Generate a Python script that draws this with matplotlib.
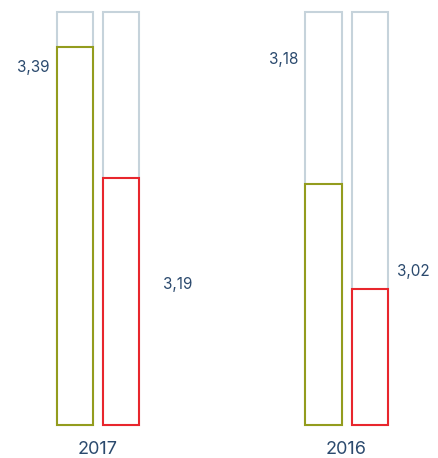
import matplotlib
matplotlib.use("Agg")
import matplotlib.pyplot as plt

# data
years = ["2017", "2016"]
olive_vals = [3.39, 3.18]
red_vals = [3.19, 3.02]
labels_olive = ["3,39", "3,18"]
labels_red = ["3,19", "3,02"]

base = 2.811      # where the bars start
top = 3.444       # height of the grey frame bars

olive = "#939c1e"
red = "#e8262d"
grey = "#c6d3db"
txt = "#2b4a6e"

plt.rcParams['font.family'] = ['Inter', 'DejaVu Sans']

fig = plt.figure(figsize=(4.39, 4.58), dpi=100)
ax = fig.add_axes([0, 0, 1, 1])
ax.set_xlim(-0.394, 1.372)
ax.set_ylim(2.760, 3.4628)
ax.axis("off")

w = 0.145
off = 0.0926
x = [0, 1]
xo = [i - off for i in x]
xr = [i + off for i in x]

# grey frames behind
ax.bar(xo + xr, [top - base] * 4, bottom=base, width=w,
       facecolor="white", edgecolor=grey, linewidth=1.5)
ax.bar(xo, [v - base for v in olive_vals], bottom=base, width=w,
       facecolor="white", edgecolor=olive, linewidth=1.5)
ax.bar(xr, [v - base for v in red_vals], bottom=base, width=w,
       facecolor="white", edgecolor=red, linewidth=1.5)

# value labels (positions)
lab_y_olive = [3.3585, 3.371]
lab_y_red = [3.027, 3.046]
lab_dx_red = [0.2616, 0.203]
for i in range(2):
    ax.text(x[i] - 0.195, lab_y_olive[i], labels_olive[i], ha="right",
            va="center", fontsize=11, color=txt)
    ax.text(x[i] + lab_dx_red[i], lab_y_red[i], labels_red[i],
            ha="left", va="center", fontsize=11, color=txt)
    ax.text(x[i], 2.773, years[i], ha="center", va="center",
            fontsize=13, color=txt)

fig.savefig("out.png", dpi=100)
